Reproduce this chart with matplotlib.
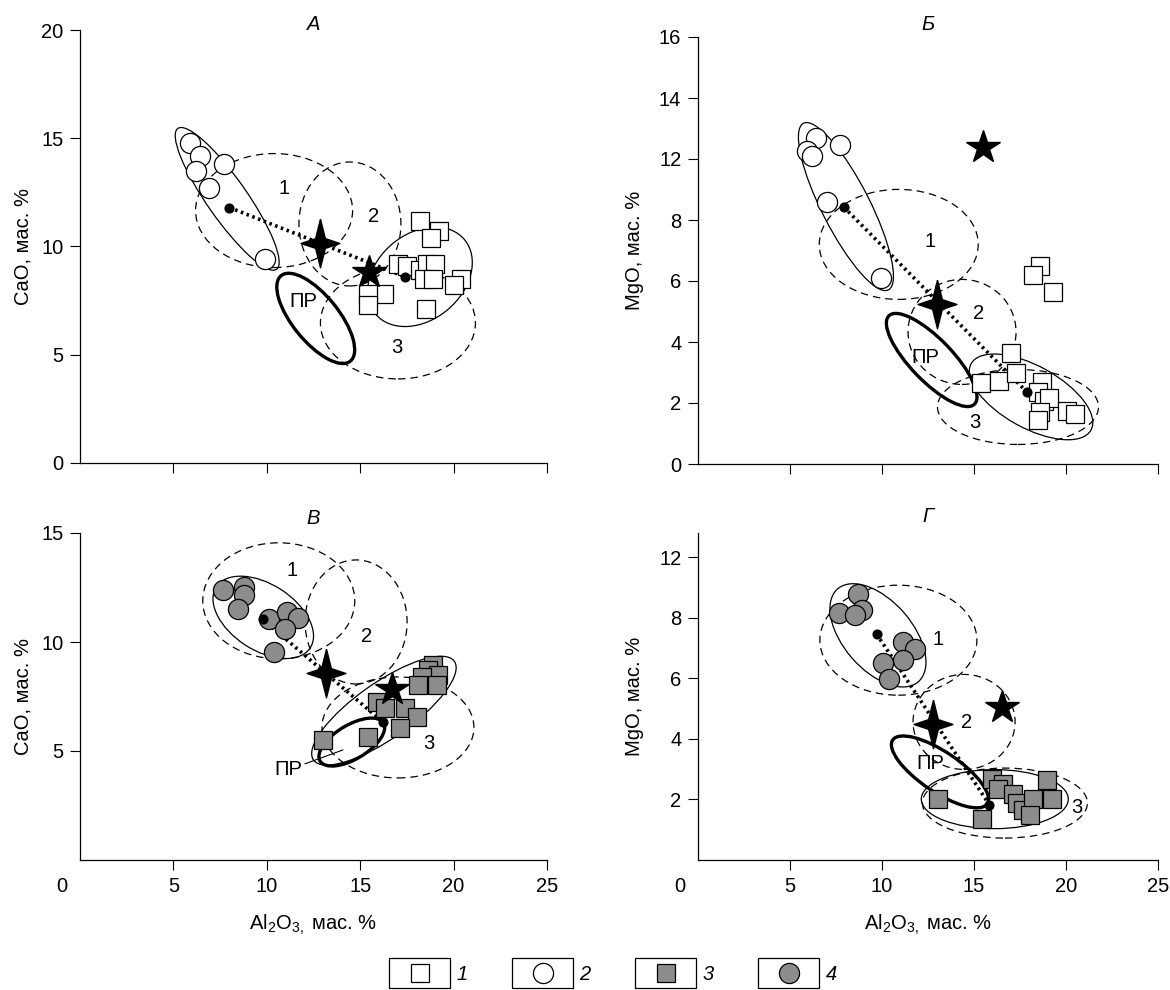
import matplotlib
matplotlib.use('Agg')
import matplotlib.pyplot as plt
from matplotlib.patches import Ellipse, Rectangle
from matplotlib.transforms import ScaledTranslation

plt.rcParams['font.family'] = ['Liberation Sans', 'DejaVu Sans']
plt.rcParams['mathtext.fontset'] = 'custom'
plt.rcParams['mathtext.rm'] = 'Liberation Sans'
plt.rcParams['mathtext.it'] = 'Liberation Sans:italic'

DPI = 100
FS = 14.5

# --- Data ---
# Panel A: CaO vs Al2O3
circ_a_x = [5.9, 6.4, 6.2, 7.7, 6.9, 9.9]
circ_a_y = [14.8, 14.2, 13.5, 13.8, 12.7, 9.4]
sq_a_x = [18.2, 19.2, 18.8, 17.0, 17.5, 18.2, 18.6, 19.0, 18.4, 18.9, 20.4, 20.0, 16.3, 15.4, 15.4, 18.5]
sq_a_y = [11.2, 10.7, 10.4, 9.2, 9.1, 8.9, 9.2, 9.2, 8.5, 8.5, 8.5, 8.2, 7.8, 7.8, 7.3, 7.1]
dots_a_x = [8.0, 17.4]
dots_a_y = [11.8, 8.6]
star4_a = (12.85, 10.15)
star5_a = (15.45, 8.8)

# Panel B: MgO vs Al2O3 (y in tick-position units, labels below)
circ_b_x = [6.4, 5.9, 6.2, 7.7, 7.0, 9.95]
circ_b_y = [10.7, 10.25, 10.1, 10.45, 8.6, 6.1]
sq_b_x = [18.6, 18.2, 19.3, 17.0, 15.4, 16.35, 17.3, 18.7, 18.5, 18.8, 19.05, 18.6, 18.5, 20.05, 20.5]
sq_b_y = [6.5, 6.2, 5.65, 3.65, 2.65, 2.72, 2.97, 2.7, 2.37, 2.05, 2.15, 1.7, 1.45, 1.75, 1.65]
dots_b_x = [7.93, 17.86]
dots_b_y = [8.42, 2.37]
star4_b = (12.97, 5.25)
star5_b = (15.5, 10.4)

# Panel V: CaO vs Al2O3
circ_v_x = [7.67, 8.78, 8.78, 8.48, 10.13, 11.1, 11.69, 10.97, 10.39]
circ_v_y = [12.39, 12.51, 12.16, 11.51, 11.04, 11.39, 11.08, 10.6, 9.55]
sq_v_x = [18.91, 18.65, 19.18, 18.29, 18.11, 19.1, 15.88, 16.33, 17.4, 18.02, 17.13, 15.43, 13.02]
sq_v_y = [8.94, 8.72, 8.49, 8.41, 8.03, 8.03, 7.26, 6.95, 6.95, 6.57, 6.04, 5.66, 5.5]
dots_v_x = [9.78, 16.24]
dots_v_y = [11.04, 6.31]
star4_v = (13.17, 8.56)
star5_v = (16.69, 7.84)

# Panel G: MgO vs Al2O3 (y in tick-position units)
circ_g_x = [8.71, 7.68, 8.9, 8.53, 11.16, 11.79, 11.16, 10.04, 10.4]
circ_g_y = [8.8, 8.16, 8.25, 8.1, 7.2, 6.96, 6.6, 6.52, 5.97]
sq_g_x = [13.06, 15.42, 15.96, 16.59, 16.32, 17.14, 17.32, 17.68, 18.22, 18.04, 18.95, 19.22]
sq_g_y = [2.03, 1.37, 2.69, 2.52, 2.36, 2.17, 1.87, 1.64, 2.03, 1.48, 2.63, 2.03]
dots_g_x = [9.71, 15.83]
dots_g_y = [7.46, 1.83]
star4_g = (12.79, 4.5)
star5_g = (16.5, 5.04)

# Axis ticks
x_ticks = [5, 10, 15, 20, 25]
cao_ticks_a = [0, 5, 10, 15, 20]
mgo_ticks_b = [0, 2, 4, 6, 8, 10, 12, 14]
mgo_labels_b = ['0', '2', '4', '6', '8', '12', '14', '16']
cao_ticks_v = [5, 10, 15]
mgo_ticks_g = [2, 4, 6, 8, 10]
mgo_labels_g = ['2', '4', '6', '8', '12']

# Field outlines: centre (data), width/height (px), angle (deg), kind
ell_a = [(7.88, 12.2, 172, 40, -55, 'solid'), (10.39, 11.66, 157, 114, 0, 'dash'),
         (14.45, 11.04, 102, 124, 0, 'dash'), (17.02, 6.47, 155, 112, 0, 'dash'),
         (18.2, 8.6, 116, 86, 40, 'solid'), (12.62, 6.68, 110, 46, -51, 'thick')]
ell_b = [(8.04, 8.44, 187, 48, -63, 'solid'), (10.91, 7.2, 159, 110, 0, 'dash'),
         (14.35, 4.33, 108, 105, 0, 'dash'), (17.39, 1.87, 161, 75, 0, 'dash'),
         (18.1, 2.2, 137, 62, -29, 'solid'), (12.7, 3.41, 123, 42, -46, 'thick')]
ell_v = [(9.81, 11.13, 112, 66, -33, 'solid'), (10.64, 11.89, 152, 116, 0, 'dash'),
         (14.78, 10.92, 102, 124, 0, 'dash'), (17.02, 6.08, 152, 101, 0, 'dash'),
         (16.27, 6.85, 172, 56, 35, 'solid'), (14.55, 5.41, 74, 34, 31, 'thick')]
ell_g = [(9.78, 7.42, 123, 69, -49, 'solid'), (10.89, 7.26, 157, 110, 0, 'dash'),
         (14.46, 4.56, 102, 95, 0, 'dash'), (16.68, 1.88, 165, 70, 0, 'dash'),
         (16.13, 2.01, 147, 59, 0, 'solid'), (13.15, 2.91, 114, 40, -34, 'thick')]

lab_a = [('1', 10.9, 12.7), ('2', 15.7, 11.4), ('3', 16.95, 5.35), ('ПР', 11.95, 7.45)]
lab_b = [('1', 12.6, 7.3), ('2', 15.25, 4.95), ('3', 15.05, 1.35), ('ПР', 12.35, 3.5)]
lab_v = [('1', 11.33, 13.3), ('2', 15.35, 10.24), ('3', 18.65, 5.35)]
lab_g = [('1', 13.06, 7.29), ('2', 14.6, 4.55), ('3', 20.6, 1.75), ('ПР', 12.6, 3.18)]

legend_labels = ['1', '2', '3', '4']
legend_markers = ['s', 'o', 's', 'o']
legend_faces = ['white', 'white', '#8c8c8c', '#8c8c8c']

# --- Styles ---
GRAY = '#8c8c8c'
MS_SQ = 13
MS_CI = 14.5
ell_styles = {'solid': dict(linestyle='-', linewidth=0.9),
              'dash': dict(linestyle=(0, (6, 4)), linewidth=0.9),
              'thick': dict(linestyle='-', linewidth=2.4)}
s = 0.2
star4_verts = [(0, 1), (s, s), (0.8, 0), (s, -s), (0, -1), (-s, -s), (-0.8, 0), (-s, s), (0, 1)]

fig = plt.figure(figsize=(11.7, 9.9), dpi=DPI)

W, H = 1170, 990
ax_a = fig.add_axes([80 / W, (H - 463) / H, 467 / W, 433 / H])
ax_b = fig.add_axes([698 / W, (H - 464) / H, 460 / W, 427 / H])
ax_v = fig.add_axes([80 / W, (H - 860) / H, 467 / W, 327 / H])
ax_g = fig.add_axes([698 / W, (H - 860) / H, 460 / W, 327 / H])


def setup(ax, ylim, yticks, ylabels, ylabel, bottom, ylab_off, title, title_off):
    ax.spines[['top', 'right']].set_visible(False)
    for sp in ax.spines.values():
        sp.set_linewidth(0.9)
    ax.set_xlim(0, 25)
    ax.set_ylim(*ylim)
    ax.set_xticks(x_ticks)
    ax.set_yticks(yticks)
    ax.set_yticklabels(ylabels)
    ax.tick_params(direction='out', length=7, width=0.8, labelsize=FS, pad=5)
    ax.text(ylab_off, 0.5, ylabel, rotation=90, ha='center', va='center',
            fontsize=FS, transform=ax.transAxes)
    ax.text(0.5, 1 + title_off, title, style='italic', ha='center', va='center',
            fontsize=FS, transform=ax.transAxes)
    if bottom:
        ax.annotate('0', xy=(-1.0, 0), xycoords=('data', 'axes fraction'),
                    xytext=(0, -12.5), textcoords='offset points',
                    ha='center', va='top', fontsize=FS, annotation_clip=False)
        ax.text(0.5, -65 / 327, r'Al$_2$O$_{3,}$ мас. %', ha='center', va='center',
                fontsize=FS, transform=ax.transAxes)
    else:
        ax.tick_params(axis='x', labelbottom=False)


def draw(ax, ells, labs, cx, cy, cface, sx, sy, sface, dx, dy, st4, st5):
    for (ex, ey, w, h, ang, kind) in ells:
        tr = fig.dpi_scale_trans + ScaledTranslation(ex, ey, ax.transData)
        e = Ellipse((0, 0), w / DPI, h / DPI, angle=ang, transform=tr, fill=False,
                    edgecolor='black', zorder=2, clip_on=False, **ell_styles[kind])
        ax.add_artist(e)
    for (t, x, y) in labs:
        ax.text(x, y, t, ha='center', va='center', fontsize=FS, zorder=5)
    ax.plot(dx, dy, color='black', lw=2.6, linestyle=(0, (0.7, 1.0)), zorder=3)
    ax.plot(sx, sy, 's', ms=MS_SQ, mfc=sface, mec='black', mew=0.9, zorder=4, linestyle='none')
    ax.plot(cx, cy, 'o', ms=MS_CI, mfc=cface, mec='black', mew=0.9, zorder=4, linestyle='none')
    ax.plot(st4[0], st4[1], marker=star4_verts, ms=35, color='black', zorder=6, linestyle='none')
    ax.plot(st5[0], st5[1], marker='*', ms=25, color='black', zorder=6, linestyle='none')
    ax.plot(dx, dy, 'o', ms=6.3, color='black', zorder=7, linestyle='none')


setup(ax_a, (0, 20), cao_ticks_a, [str(v) for v in cao_ticks_a], 'CaO, мас. %', False, -57 / 467, 'А', 6 / 433)
setup(ax_b, (0, 14), mgo_ticks_b, mgo_labels_b, 'MgO, мас. %', False, -63 / 460, 'Б', 12 / 427)
setup(ax_v, (0, 15), cao_ticks_v, [str(v) for v in cao_ticks_v], 'CaO, мас. %', True, -57 / 467, 'В', 15 / 327)
setup(ax_g, (0, 10.8), mgo_ticks_g, mgo_labels_g, 'MgO, мас. %', True, -63 / 460, 'Г', 16 / 327)

draw(ax_a, ell_a, lab_a, circ_a_x, circ_a_y, 'white', sq_a_x, sq_a_y, 'white', dots_a_x, dots_a_y, star4_a, star5_a)
draw(ax_b, ell_b, lab_b, circ_b_x, circ_b_y, 'white', sq_b_x, sq_b_y, 'white', dots_b_x, dots_b_y, star4_b, star5_b)
draw(ax_v, ell_v, lab_v, circ_v_x, circ_v_y, GRAY, sq_v_x, sq_v_y, GRAY, dots_v_x, dots_v_y, star4_v, star5_v)
draw(ax_g, ell_g, lab_g, circ_g_x, circ_g_y, GRAY, sq_g_x, sq_g_y, GRAY, dots_g_x, dots_g_y, star4_g, star5_g)

# ПР label with leader line in panel V
ax_v.annotate('ПР', xy=(14.08, 5.05), xytext=(11.15, 4.13), fontsize=FS, ha='center', va='center',
              arrowprops=dict(arrowstyle='-', lw=0.8, color='black', shrinkA=0, shrinkB=0), zorder=5)

# --- Legend: boxed symbols with italic numbers ---
lax = fig.add_axes([0, 0, 1, 40 / H])
lax.set_xlim(0, W)
lax.set_ylim(40, 0)
lax.axis('off')
for i, (lab, mk, fc) in enumerate(zip(legend_labels, legend_markers, legend_faces)):
    x0 = 389 + 123 * i
    lax.add_patch(Rectangle((x0, 8), 61, 30, fill=False, lw=0.9, edgecolor='black', clip_on=False))
    lax.plot(x0 + 30.5, 23, mk, ms=MS_SQ if mk == 's' else MS_CI, mfc=fc, mec='black', mew=0.9, clip_on=False)
    lax.text(x0 + 73, 24, lab, style='italic', fontsize=FS, ha='center', va='center')

fig.savefig('out.png', dpi=DPI)
